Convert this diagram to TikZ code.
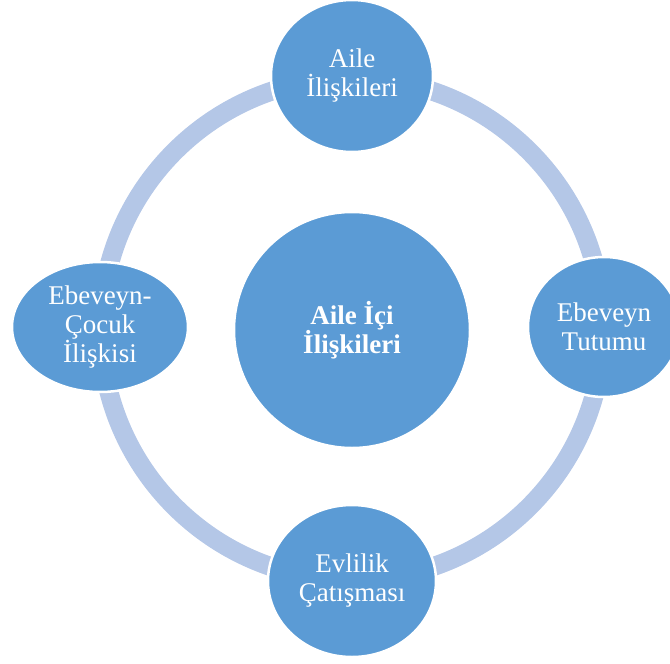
\documentclass[tikz,border=0pt]{standalone}
\usepackage{fontspec}
\setmainfont{Liberation Serif}
\usetikzlibrary{shapes.geometric}
\definecolor{partblue}{HTML}{5B9BD5}
\definecolor{ringblue}{HTML}{B4C7E7}
\begin{document}
\begin{tikzpicture}[x=1pt,y=-1pt,
				part/.style={ellipse,fill=partblue,draw=white,line width=2.5pt,inner sep=0pt,
					text=white,align=center,font=\fontsize{27}{29}\selectfont},
				hub/.style={part,font=\fontsize{27}{29}\selectfont\bfseries}]
				\useasboundingbox (0,0) rectangle (670,664);
				\coordinate (CENTRE) at (352,329);
				\draw[line width=19pt,ringblue] (CENTRE) circle [radius=251pt];
				\node (HUB)     [hub,minimum width=236pt,minimum height=236pt] at (352,330) {Aile İçi\\İlişkileri};
				\node (AILE)    [part,minimum width=162pt,minimum height=152pt] at (352,76)  {Aile\\İlişkileri};
				\node (TUTUM)   [part,minimum width=152pt,minimum height=140pt] at (604,327) {Ebeveyn\\Tutumu};
				\node (EVLILIK) [part,minimum width=168pt,minimum height=152pt] at (352,581) {Evlilik\\Çatışması};
				\node (COCUK)   [part,minimum width=176pt,minimum height=130pt] at (100,327) {Ebeveyn-\\Çocuk\\İlişkisi};
			\end{tikzpicture}
\end{document}
